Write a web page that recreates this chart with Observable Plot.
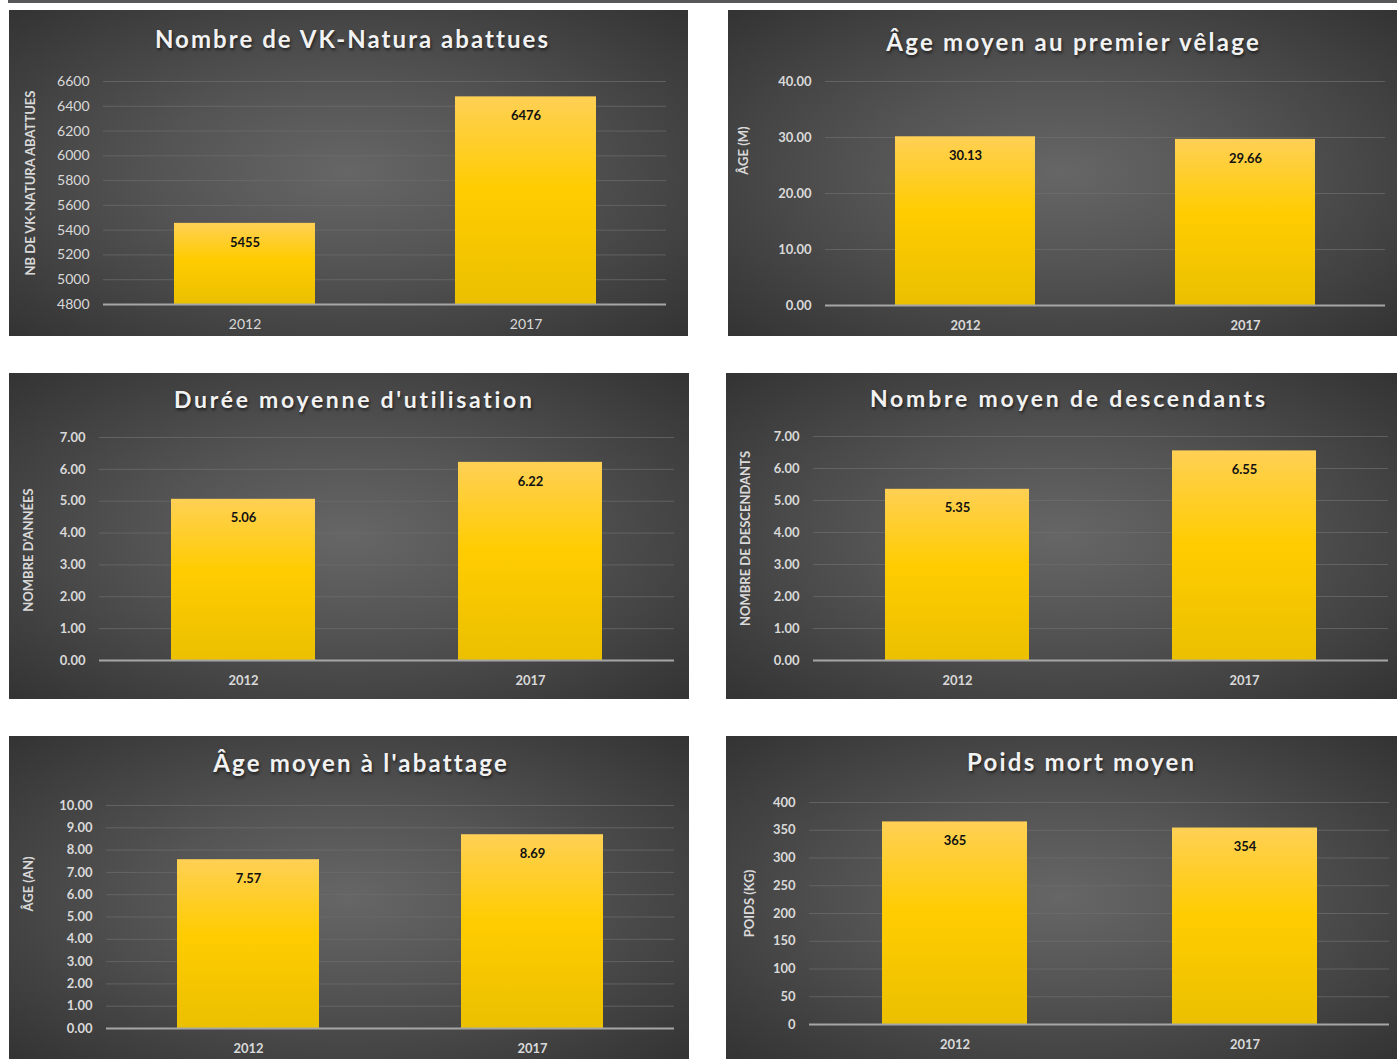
<!DOCTYPE html>
<html>
<head>
<meta charset="utf-8">
<script src="https://cdn.jsdelivr.net/npm/d3@7"></script>
<script src="https://cdn.jsdelivr.net/npm/@observablehq/plot@0.6"></script>
<style>
  html, body { margin: 0; padding: 0; background: #fff; }
  #root { position: relative; width: 1397px; height: 1059px; overflow: hidden; font-family: Lato, "Open Sans", sans-serif; }
  .topbar { position: absolute; left: 8px; top: 0; width: 1389px; height: 3px; background: #58585a; }
  .panel { position: absolute; overflow: hidden;
    background: radial-gradient(ellipse farthest-corner at 50% 50%, #666666 0%, #545454 40%, #333333 100%); }
  .title { position: absolute; left: 0; width: 100%; text-align: center; color: #f2f2f2;
    font-weight: 700; white-space: nowrap; line-height: 1;
    text-shadow: 1px 2px 3px rgba(0,0,0,0.6); }
  .panel svg { position: absolute; left: 0; overflow: visible; }
</style>
</head>
<body>
<div id="root"><div class="topbar"></div></div>
<script>
// ---- data ----
const years = ["2012", "2017"];

const abattues = [5455, 6476];
const ageVelage = [30.13, 29.66];
const dureeUtilisation = [5.06, 6.22];
const descendants = [5.35, 6.55];
const ageAbattage = [7.57, 8.69];
const poidsMort = [365, 354];

const ticksAbattues = [4800, 5000, 5200, 5400, 5600, 5800, 6000, 6200, 6400, 6600];
const ticksVelage = [0, 10, 20, 30, 40];
const ticksDuree = [0, 1, 2, 3, 4, 5, 6, 7];
const ticksDescendants = [0, 1, 2, 3, 4, 5, 6, 7];
const ticksAbattage = [0, 1, 2, 3, 4, 5, 6, 7, 8, 9, 10];
const ticksPoids = [0, 50, 100, 150, 200, 250, 300, 350, 400];

const titles = [
  "Nombre de VK-Natura abattues",
  "Âge moyen au premier vêlage",
  "Durée moyenne d'utilisation",
  "Nombre moyen de descendants",
  "Âge moyen à l'abattage",
  "Poids mort moyen"
];
const yLabels = [
  "NB DE VK-NATURA ABATTUES",
  "ÂGE (M)",
  "NOMBRE D'ANNÉES",
  "NOMBRE DE DESCENDANTS",
  "ÂGE (AN)",
  "POIDS (KG)"
];

// ---- layout ----
const panels = [
  { values: abattues, ticks: ticksAbattues, fmt: d => String(d), valFmt: d => String(d), boldTicks: false,
    box: [9, 10, 679, 326], svgTop: 56, m: [15, 22, 32, 94], titleY: 29, titleX: 3, titleSize: 24, titleLS: 2.05,
    lab: [-73, -10] },
  { values: ageVelage, ticks: ticksVelage, fmt: d => d.toFixed(2), valFmt: d => d.toFixed(2), boldTicks: true,
    box: [728, 10, 669, 326], svgTop: 56, m: [15, 12, 31, 97], titleY: 32, titleX: 10, titleSize: 24, titleLS: 2.27,
    lab: [-82, -43] },
  { values: dureeUtilisation, ticks: ticksDuree, fmt: d => d.toFixed(2), valFmt: d => d.toFixed(2), boldTicks: true,
    box: [9, 373, 680, 326], svgTop: 56, m: [8, 15, 39, 90], titleY: 26, titleX: 4, titleSize: 23, titleLS: 2.7,
    lab: [-71, 1] },
  { values: descendants, ticks: ticksDescendants, fmt: d => d.toFixed(2), valFmt: d => d.toFixed(2), boldTicks: true,
    box: [726, 373, 671, 326], svgTop: 56, m: [7, 9, 39, 87], titleY: 25, titleX: 6, titleSize: 23, titleLS: 2.8,
    lab: [-68, -10] },
  { values: ageAbattage, ticks: ticksAbattage, fmt: d => d.toFixed(2), valFmt: d => d.toFixed(2), boldTicks: true,
    box: [9, 736, 680, 323], svgTop: 56, m: [13, 15, 31, 97], titleY: 27, titleX: 11, titleSize: 24, titleLS: 2.2,
    lab: [-78, -33] },
  { values: poidsMort, ticks: ticksPoids, fmt: d => String(d), valFmt: d => String(d), boldTicks: true,
    box: [726, 736, 671, 323], svgTop: 56, m: [10, 8, 35, 83], titleY: 26, titleX: 19, titleSize: 24, titleLS: 2.2,
    lab: [-60, -10] }
];

const root = document.getElementById("root");

panels.forEach((p, i) => {
  const [left, top, w, h] = p.box;
  const div = document.createElement("div");
  div.className = "panel";
  div.style.left = left + "px";
  div.style.top = top + "px";
  div.style.width = w + "px";
  div.style.height = h + "px";
  root.appendChild(div);

  const t = document.createElement("div");
  t.className = "title";
  t.textContent = titles[i];
  t.style.top = p.titleY + "px";
  t.style.fontSize = p.titleSize + "px";
  t.style.letterSpacing = p.titleLS + "px";
  t.style.transform = `translate(${p.titleX + p.titleLS / 2}px, -50%)`;
  div.appendChild(t);

  const data = years.map((y, k) => ({ year: y, value: p.values[k] }));
  const y0 = p.ticks[0];
  const y1 = p.ticks[p.ticks.length - 1];
  const gid = "barGrad" + i;
  const [mt, mr, mb, ml] = p.m;
  const tickWeight = p.boldTicks ? "bold" : "normal";

  const chart = Plot.plot({
    width: w,
    height: h - p.svgTop,
    marginTop: mt, marginRight: mr, marginBottom: mb, marginLeft: ml,
    style: { background: "transparent", fontFamily: "Lato, 'Open Sans', sans-serif", overflow: "visible" },
    x: { domain: years, paddingInner: 0.5, paddingOuter: 0.25, label: null },
    y: { domain: [y0, y1], label: null },
    marks: [
      () => {
        const defs = d3.create("svg:defs");
        const g = defs.append("linearGradient").attr("id", gid)
          .attr("x1", 0).attr("y1", 0).attr("x2", 0).attr("y2", 1);
        g.append("stop").attr("offset", "0%").attr("stop-color", "#ffd055");
        g.append("stop").attr("offset", "45%").attr("stop-color", "#ffcc00");
        g.append("stop").attr("offset", "100%").attr("stop-color", "#ebc000");
        return defs.node();
      },
      Plot.ruleY(p.ticks.slice(1), { stroke: "#6e6e6e", strokeWidth: 1, strokeOpacity: 0.7 }),
      Plot.barY(data, { x: "year", y1: y0, y2: "value", fill: `url(#${gid})` }),
      Plot.ruleY([y0], { stroke: "#a6a6a6", strokeWidth: 2 }),
      Plot.text(data, { x: "year", y: "value", text: d => p.valFmt(d.value), dy: 19,
        fill: "#111", fontWeight: "bold", fontSize: 13, lineAnchor: "middle" }),
      Plot.axisY(p.ticks, { tickSize: 0, tickPadding: 14, tickFormat: p.fmt, label: null,
        fill: "#d9d9d9", fontSize: p.boldTicks ? 13 : 14, fontWeight: tickWeight }),
      Plot.axisX({ tickSize: 0, tickPadding: 15, label: null,
        fill: "#d9d9d9", fontSize: p.boldTicks ? 13 : 14, fontWeight: tickWeight }),
      Plot.text([yLabels[i]], { text: d => d, frameAnchor: "left", textAnchor: "middle", lineAnchor: "middle",
        rotate: -90, dx: p.lab[0], dy: p.lab[1], fill: "#d9d9d9", fontWeight: "bold", fontSize: 13 })
    ]
  });
  chart.style.top = p.svgTop + "px";
  div.appendChild(chart);
});
</script>
</body>
</html>
